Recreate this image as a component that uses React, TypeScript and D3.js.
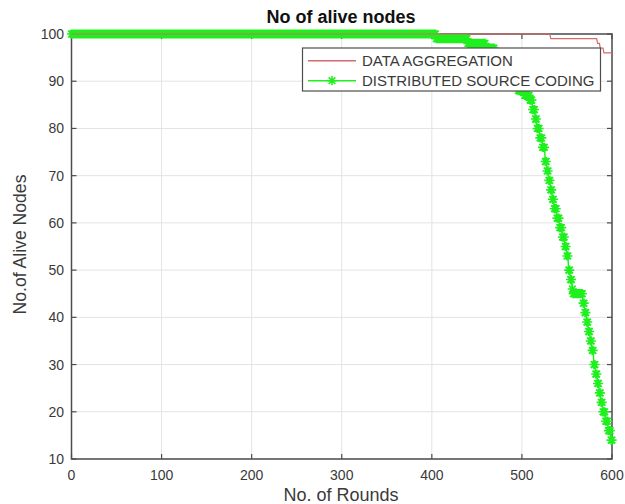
import React from "react";
import * as d3 from "d3";

const title = "No of alive nodes";
const xLabel = "No. of Rounds";
const yLabel = "No.of Alive Nodes";
const seriesNames = ["DATA AGGREGATION", "DISTRIBUTED SOURCE CODING"];
const xTicks = [0, 100, 200, 300, 400, 500, 600];
const yTicks = [10, 20, 30, 40, 50, 60, 70, 80, 90, 100];

// round at which the alive count changes, and the new alive count
const daRounds = [0, 532, 584, 587, 591];
const daAlive = [100, 99, 98, 97, 96];

const dscRounds = [
  0, 405, 440, 460, 470, 480, 487, 496, 503, 509, 512, 515, 517, 520, 523, 526,
  528, 530, 532, 534, 536, 539, 542, 545, 548, 550, 552, 554, 556, 557,
  568, 570, 572, 574, 576, 578, 580, 582, 584, 586, 588, 590, 593, 596, 599,
];
const dscAlive = [
  100, 99, 98, 97, 95, 92, 89, 88, 87, 86, 84, 82, 80, 78, 76, 73,
  71, 69, 67, 65, 63, 61, 59, 57, 55, 53, 50, 48, 46, 45,
  43, 41, 39, 37, 35, 33, 30, 28, 26, 24, 22, 20, 18, 16, 14,
];

const maxRound = 600;

function expand(rs: number[], vs: number[]) {
  const out: [number, number][] = [];
  for (let r = 0; r <= maxRound; r++) {
    const i = d3.bisectRight(rs, r) - 1;
    out.push([r, vs[Math.max(0, i)]]);
  }
  return out;
}

const W = 625;
const H = 504;
const L = 71.5;
const R = 612;
const T = 34;
const B = 459;

const axisColor = "#4d4d4d";
const textColor = "#3a3a3a";
const gridColor = "#e3e3e3";
const red = "#d46a6a";
const green = "#1ef01e";
const font = "'Liberation Sans', Arial, Helvetica, sans-serif";

function starPath(cx: number, cy: number, s: number) {
  const d = s * 0.72;
  return `M${cx - s},${cy}L${cx + s},${cy}M${cx},${cy - s}L${cx},${cy + s}M${cx - d},${cy - d}L${cx + d},${cy + d}M${cx - d},${cy + d}L${cx + d},${cy - d}`;
}

export default function App() {
  const x = d3.scaleLinear().domain([0, 600]).range([L, R]);
  const y = d3.scaleLinear().domain([10, 100]).range([B, T]);
  const line = d3
    .line<[number, number]>()
    .x((d) => x(d[0]))
    .y((d) => y(d[1]));

  const da = expand(daRounds, daAlive);
  const dsc = expand(dscRounds, dscAlive);
  const markers = dsc.map((d) => starPath(x(d[0]), y(d[1]), 4.6)).join("");

  const legX = 302.5;
  const legY = 48;
  const legW = 298;
  const legH = 43;
  const row1 = 60.7;
  const row2 = 80.7;

  return (
    <div style={{ position: "absolute", left: 0, top: 0 }}>
      <svg width={W} height={H} style={{ display: "block", background: "#fff" }}>
        <defs>
          <clipPath id="plotclip">
            <rect x={L - 6} y={T - 6} width={R - L + 12} height={B - T + 12} />
          </clipPath>
        </defs>
        {/* grid */}
        {xTicks.map((t) => (
          <line key={"gx" + t} x1={x(t)} x2={x(t)} y1={T} y2={B} stroke={gridColor} strokeWidth={1} />
        ))}
        {yTicks.map((t) => (
          <line key={"gy" + t} x1={L} x2={R} y1={y(t)} y2={y(t)} stroke={gridColor} strokeWidth={1} />
        ))}
        {/* box */}
        <rect x={L} y={T} width={R - L} height={B - T} fill="none" stroke={axisColor} strokeWidth={1.5} />
        {/* ticks (inward) */}
        {xTicks.map((t) => (
          <g key={"tx" + t}>
            <line x1={x(t)} x2={x(t)} y1={B} y2={B - 5} stroke={axisColor} strokeWidth={1.2} />
            <line x1={x(t)} x2={x(t)} y1={T} y2={T + 5} stroke={axisColor} strokeWidth={1.2} />
            <text x={x(t)} y={480} textAnchor="middle" fontSize={14} fill={textColor} fontFamily={font}>
              {t}
            </text>
          </g>
        ))}
        {yTicks.map((t) => (
          <g key={"ty" + t}>
            <line x1={L} x2={L + 5} y1={y(t)} y2={y(t)} stroke={axisColor} strokeWidth={1.2} />
            <line x1={R} x2={R - 5} y1={y(t)} y2={y(t)} stroke={axisColor} strokeWidth={1.2} />
            <text x={64} y={y(t) + 5} textAnchor="end" fontSize={14} fill={textColor} fontFamily={font}>
              {t}
            </text>
          </g>
        ))}
        {/* series */}
        <g clipPath="url(#plotclip)">
          <path d={line(dsc) || ""} fill="none" stroke={green} strokeWidth={1.5} />
          <path d={markers} fill="none" stroke={green} strokeWidth={1.6} />
          <path d={line(da) || ""} fill="none" stroke={red} strokeWidth={1.2} />
        </g>
        {/* title & labels */}
        <text x={341} y={23} textAnchor="middle" fontSize={18} fontWeight="bold" fill="#111" fontFamily={font}>
          {title}
        </text>
        <text x={341} y={501} textAnchor="middle" fontSize={18} fill={textColor} fontFamily={font}>
          {xLabel}
        </text>
        <text
          transform={`translate(26,${(T + B) / 2 - 2}) rotate(-90)`}
          textAnchor="middle"
          fontSize={17.6}
          fill={textColor}
          fontFamily={font}
        >
          {yLabel}
        </text>
        {/* legend */}
        <rect x={legX} y={legY} width={legW} height={legH} fill="#fff" stroke={axisColor} strokeWidth={1.2} />
        <line x1={308} x2={356} y1={row1} y2={row1} stroke={red} strokeWidth={1.5} />
        <line x1={308} x2={356} y1={row2} y2={row2} stroke={green} strokeWidth={1.5} />
        <path d={starPath(332, row2, 4.6)} fill="none" stroke={green} strokeWidth={1.6} />
        <text x={362} y={row1 + 5} fontSize={15} fill={textColor} fontFamily={font}>
          {seriesNames[0]}
        </text>
        <text x={362} y={row2 + 5} fontSize={15} fill={textColor} fontFamily={font}>
          {seriesNames[1]}
        </text>
      </svg>
    </div>
  );
}
